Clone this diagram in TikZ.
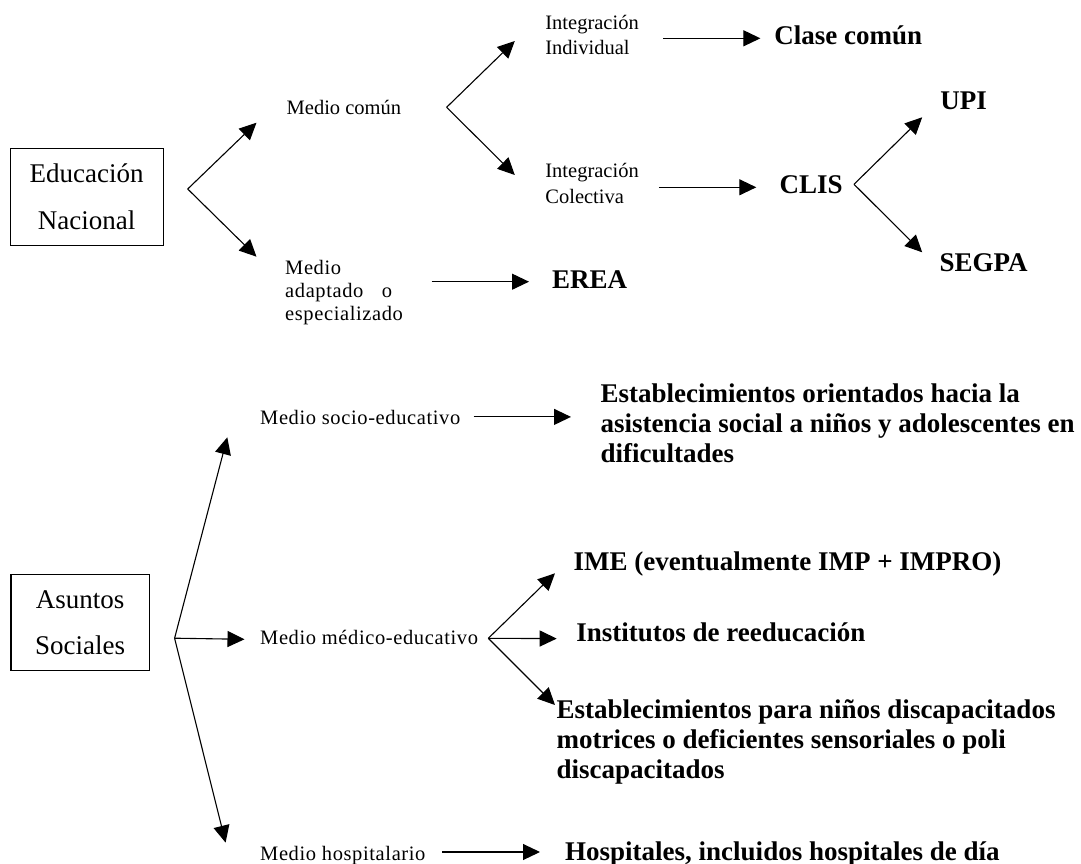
\documentclass[tikz,border=0pt]{standalone}
\usepackage{fontspec}
\setmainfont{Liberation Serif}
\newfontfamily\medfont[LetterSpace=3]{Liberation Serif}
\usetikzlibrary{arrows.meta}
\begin{document}
\begin{tikzpicture}[x=1pt,y=-1pt,
  conn/.style={line width=1.1pt, -{Triangle[length=17pt,width=16pt]}},
  big/.style={font=\fontsize{27}{30.3}\selectfont\bfseries, inner sep=0pt, anchor=base west, align=left},
  small/.style={font=\fontsize{20.5}{25.7}\selectfont, inner sep=0pt, anchor=base west, align=left},
  medio/.style={font=\fontsize{20.5}{23}\selectfont\medfont, inner sep=0pt, anchor=base west, align=left},
  boxn/.style={draw, line width=1.1pt, align=center, inner sep=0pt}]
\useasboundingbox (0,0) rectangle (1081,864);

% ---- Educacion Nacional ----
\node[boxn, minimum width=152.7pt, minimum height=96.7pt, font=\fontsize{27}{46.7}\selectfont] (edu) at (86.7,196.7) {Educación\\Nacional};
\node[small] (mc) at (286.5,115) {Medio común};
\node[medio] (ma) at (285,320) {Medio\\\makebox[107pt][l]{adaptado\hfill o}\\especializado};
\node[small] (ii) at (545.2,55) {Integración\\Individual};
\node[small] (ic) at (545.2,203.3) {Integración\\Colectiva};
\node[big] (cc) at (774.2,45) {Clase común};
\node[big] (clis) at (779.3,193.3) {CLIS};
\node[big] (upi) at (940.1,110) {UPI};
\node[big] (segpa) at (939.5,271.7) {SEGPA};
\node[big] (erea) at (552,288.3) {EREA};

\coordinate (v1) at (187.7,189);
\coordinate (v1a) at (256.5,122.7);
\coordinate (v1b) at (256.5,256.7);
\draw[conn] (v1) -- (v1a);
\draw[conn] (v1) -- (v1b);

\coordinate (v2) at (446.6,107.3);
\coordinate (v2a) at (514.8,41);
\coordinate (v2b) at (514.8,175);
\draw[conn] (v2) -- (v2a);
\draw[conn] (v2) -- (v2b);

\coordinate (a1s) at (663,38.3);
\coordinate (a1e) at (760.4,38.3);
\draw[conn] (a1s) -- (a1e);
\coordinate (a2s) at (658.8,187.3);
\coordinate (a2e) at (756.3,187.3);
\draw[conn] (a2s) -- (a2e);
\coordinate (a3s) at (431.7,281.7);
\coordinate (a3e) at (529,281.7);
\draw[conn] (a3s) -- (a3e);

\coordinate (v3) at (854,184.3);
\coordinate (v3a) at (922.2,117.3);
\coordinate (v3b) at (922.2,252.3);
\draw[conn] (v3) -- (v3a);
\draw[conn] (v3) -- (v3b);

% ---- Asuntos Sociales ----
\node[boxn, minimum width=138.4pt, minimum height=96.4pt, font=\fontsize{27}{46}\selectfont] (as) at (80.2,622.4) {Asuntos\\Sociales};
\node[medio] (ms) at (260,424.7) {Medio socio-educativo};
\node[medio] (mm) at (260,644) {Medio médico-educativo};
\node[medio] (mh) at (260,860) {Medio hospitalario};

\node[big] (eo) at (600.3,462.8) {Establecimientos orientados hacia la\\asistencia social a niños y adolescentes en\\dificultades};
\node[big] (ime) at (573.4,570.1) {IME (eventualmente IMP + IMPRO)};
\node[big] (inst) at (576.2,641.6) {Institutos de reeducación};
\node[big] (ep) at (556.5,778.9) {Establecimientos para niños discapacitados\\motrices o deficientes sensoriales o poli\\discapacitados};
\node[big] (hosp) at (565,860) {Hospitales, incluidos hospitales de día};

\coordinate (v4) at (174.6,638.2);
\coordinate (v4a) at (227.3,437.3);
\coordinate (v4b) at (244.5,639.3);
\coordinate (v4c) at (225.6,842.6);
\draw[conn] (v4) -- (v4a);
\draw[conn] (v4) -- (v4b);
\draw[conn] (v4) -- (v4c);

\coordinate (v5) at (488.3,638.3);
\coordinate (v5a) at (555,573.3);
\coordinate (v5b) at (556.7,638.6);
\coordinate (v5c) at (555,705);
\draw[conn] (v5) -- (v5a);
\draw[conn] (v5) -- (v5b);
\draw[conn] (v5) -- (v5c);

\coordinate (a4s) at (473.5,416.9);
\coordinate (a4e) at (571,416.9);
\draw[conn] (a4s) -- (a4e);
\coordinate (a5s) at (442,852);
\coordinate (a5e) at (540,852);
\draw[conn] (a5s) -- (a5e);
\end{tikzpicture}
\end{document}
